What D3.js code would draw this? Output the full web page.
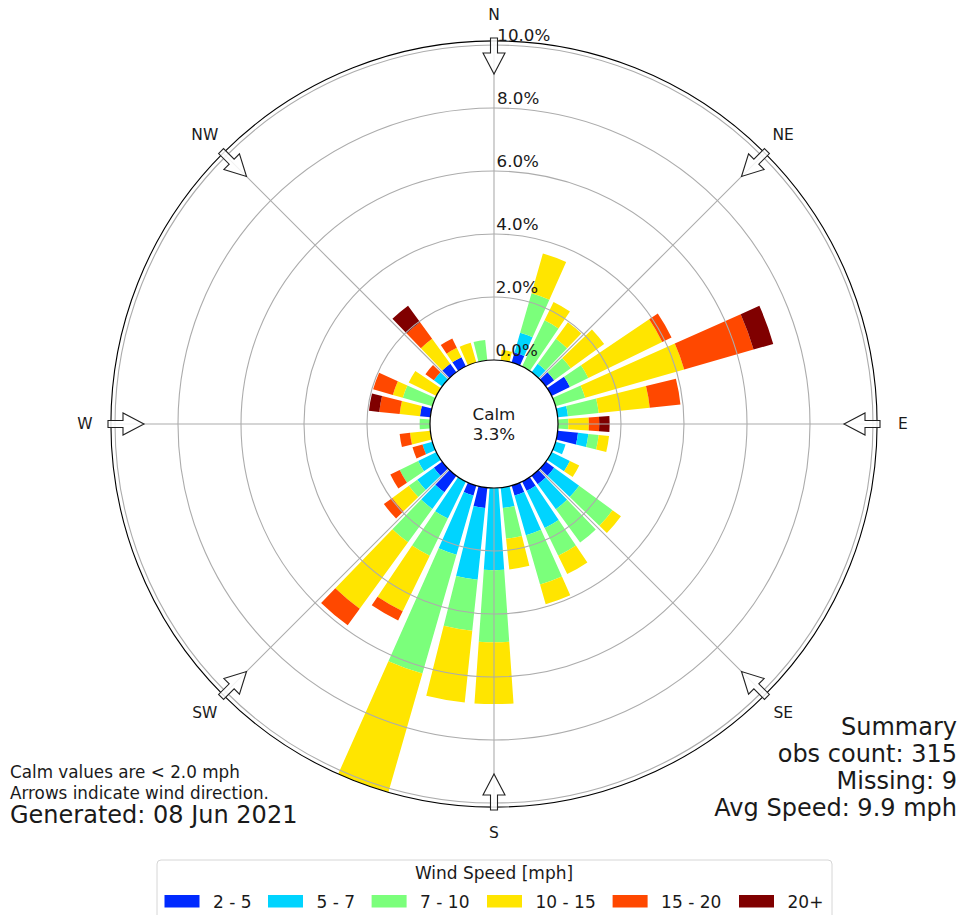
<!DOCTYPE html>
<html>
<head>
<meta charset="utf-8">
<script src="https://cdn.jsdelivr.net/npm/d3@7"></script>
<style>
  body { margin: 0; background: #fff; }
  svg { display: block; font-family: "DejaVu Sans", sans-serif; }
</style>
</head>
<body>
<svg id="chart" width="963" height="915"></svg>
<script>
// Wind direction bins (degrees, centre of each 10° sector)
const directions = [0,10,20,30,40,50,60,70,80,90,100,110,120,130,140,150,160,170,
                    180,190,200,210,220,230,240,250,260,270,280,290,300,310,320,330,340,350];

// Percent of observations in each direction for every speed class
const pct2to5   = [0,0,0.33,0,0,0.33,0.65,0,0,0,0.65,0,0,0.33,0.33,0.33,0.33,0,
                   0,0.65,0.33,0,0.65,0.33,0,0,0,0,0.33,0,0,0,0.33,0.33,0,0];
const pct5to7   = [0,0,0.65,0,0.33,0,0,0,0.33,0,0.33,0.33,0.65,0.98,0.98,1.31,1.31,0.65,
                   2.61,2.29,1.96,1.31,0.65,0.65,0.65,0.33,0,0,0,0,0,0.33,0,0,0,0];
const pct7to10  = [0,0,1.31,1.63,0.98,0.65,0.65,0.98,0.98,0.33,0.33,0,0,1.31,1.31,0.98,1.63,0.98,
                   2.29,1.63,3.92,1.31,1.31,0.33,0.65,0,0,0.33,0,0.98,0,0,0,0,0,0.65];
const pct10to15 = [0,0.33,1.31,0.65,0.65,1.31,2.61,3.27,1.63,0.65,0.33,0,0.33,0.33,0,0.65,0.65,0.98,
                   1.96,2.29,3.92,1.96,2.61,0.65,0,0,0.65,0,0.65,0.33,0.98,0,0.98,0.33,0.65,0];
const pct15to20 = [0,0,0,0,0,0,0.33,2.29,0.98,0.33,0,0,0,0,0,0,0,0,
                   0,0,0,0.33,0.65,0.33,0.33,0.33,0.33,0,0.65,0.65,0,0.33,0.65,0.33,0,0];
const pct20plus = [0,0,0,0,0,0,0,0.65,0,0.33,0,0,0,0,0,0,0,0,
                   0,0,0,0,0,0,0,0,0,0,0.33,0,0,0,0.65,0,0,0];

const speedLabels = ["2 - 5", "5 - 7", "7 - 10", "10 - 15", "15 - 20", "20+"];
const speedColors = ["#002aff", "#00d4ff", "#7bff7b", "#ffe500", "#ff4800", "#800000"];

const ringTicks = [0, 2, 4, 6, 8, 10];
const compassNames = ["N", "NE", "E", "SE", "S", "SW", "W", "NW"];
const compassAngles = [0, 45, 90, 135, 180, 225, 270, 315];

const calmPercent = "3.3%";
const footLeft = ["Calm values are < 2.0 mph", "Arrows indicate wind direction."];
const generatedText = "Generated: 08 Jun 2021";
const summaryLines = ["Summary", "obs count: 315", "Missing: 9", "Avg Speed: 9.9 mph"];

// ---------------------------------------------------------------
const svg = d3.select("#chart");
svg.append("rect").attr("width", 963).attr("height", 915).attr("fill", "#fff");

const cx = 494, cy = 424;
const r = d3.scaleLinear().domain([0, 10]).range([64, 379]);
const rad = Math.PI / 180;

const keys = ["s0", "s1", "s2", "s3", "s4", "s5"];
const series = [pct2to5, pct5to7, pct7to10, pct10to15, pct15to20, pct20plus];
const rows = directions.map((d, i) => {
  const o = { dir: d };
  keys.forEach((k, j) => { o[k] = series[j][i]; });
  return o;
});
const stacked = d3.stack().keys(keys)(rows);
const rMax = d3.max(rows, d => d3.sum(keys, k => d[k]));

const g = svg.append("g").attr("transform", `translate(${cx},${cy})`);

g.append("clipPath").attr("id", "polarClip")
  .append("circle").attr("r", r(rMax));

// stacked sector bars
const halfWidth = 4; // degrees
const arc = d3.arc()
  .innerRadius(d => r(d[0]))
  .outerRadius(d => r(d[1]))
  .startAngle(d => (d.data.dir - halfWidth) * rad)
  .endAngle(d => (d.data.dir + halfWidth) * rad);

const barLayer = g.append("g").attr("clip-path", "url(#polarClip)");
stacked.forEach((layer, j) => {
  barLayer.append("g")
    .selectAll("path")
    .data(layer.filter(d => d[1] - d[0] > 0))
    .join("path")
    .attr("d", arc)
    .attr("fill", speedColors[j]);
});

// grid: rings and spokes
const grid = g.append("g").attr("fill", "none").attr("stroke", "#acacac").attr("stroke-width", 1.1);
grid.selectAll("circle")
  .data(ringTicks.filter(t => t > 0))
  .join("circle")
  .attr("r", d => r(d));
grid.selectAll("line")
  .data(compassAngles)
  .join("line")
  .attr("x1", d => r(0) * Math.sin(d * rad))
  .attr("y1", d => -r(0) * Math.cos(d * rad))
  .attr("x2", d => r(rMax) * Math.sin(d * rad))
  .attr("y2", d => -r(rMax) * Math.cos(d * rad));

// outer frame
g.append("circle").attr("r", r(rMax)).attr("fill", "none")
  .attr("stroke", "#000").attr("stroke-width", 1.1);

// calm disc
g.append("circle").attr("r", r(0)).attr("fill", "#fff")
  .attr("stroke", "#000").attr("stroke-width", 1.2);
g.append("text").attr("x", 0).attr("y", -4).attr("text-anchor", "middle")
  .attr("font-size", 16.7).attr("fill", "#1a1a1a").text("Calm");
g.append("text").attr("x", 0).attr("y", 16).attr("text-anchor", "middle")
  .attr("font-size", 16.7).attr("fill", "#1a1a1a").text(calmPercent);

// radial tick labels
g.append("g").selectAll("text")
  .data(ringTicks)
  .join("text")
  .attr("x", d => 1 + r(d) * 0.006)
  .attr("y", d => -r(d) - 4)
  .attr("font-size", 16.7)
  .attr("fill", "#1a1a1a")
  .text(d => d3.format(".1f")(d) + "%");

// direction arrows (pointing toward the centre)
const arrowPts = [[-3.5,-386],[3.5,-386],[3.5,-371],[11,-371],[0,-350],[-11,-371],[-3.5,-371]];
g.append("g").selectAll("polygon")
  .data(compassAngles)
  .join("polygon")
  .attr("points", arrowPts.map(p => p.join(",")).join(" "))
  .attr("transform", d => `rotate(${d})`)
  .attr("fill", "#fff")
  .attr("fill-opacity", 0.85)
  .attr("stroke", "#222")
  .attr("stroke-width", 1.1)
  .attr("stroke-linejoin", "miter");

// compass labels
g.append("g").selectAll("text")
  .data(compassAngles)
  .join("text")
  .attr("x", d => 409 * Math.sin(d * rad))
  .attr("y", d => -409 * Math.cos(d * rad))
  .attr("text-anchor", "middle")
  .attr("dominant-baseline", "central")
  .attr("font-size", 15.5)
  .attr("fill", "#1a1a1a")
  .text((d, i) => compassNames[i]);

// footnotes
svg.append("g").selectAll("text")
  .data(footLeft)
  .join("text")
  .attr("x", 10)
  .attr("y", (d, i) => 778 + i * 20.5)
  .attr("font-size", 16.8)
  .attr("fill", "#1a1a1a")
  .text(d => d);
svg.append("text").attr("x", 10).attr("y", 823)
  .attr("font-size", 24).attr("fill", "#1a1a1a").text(generatedText);

svg.append("g").selectAll("text")
  .data(summaryLines)
  .join("text")
  .attr("x", 957)
  .attr("y", (d, i) => 735 + i * 27)
  .attr("text-anchor", "end")
  .attr("font-size", 24)
  .attr("fill", "#1a1a1a")
  .text(d => d);

// legend
const legend = svg.append("g");
legend.append("rect")
  .attr("x", 157).attr("y", 860).attr("width", 675).attr("height", 70)
  .attr("rx", 4).attr("fill", "#fff").attr("stroke", "#d6d6d6").attr("stroke-width", 1);
legend.append("text").attr("x", 494).attr("y", 879).attr("text-anchor", "middle")
  .attr("font-size", 17).attr("fill", "#1a1a1a").text("Wind Speed [mph]");
const positions = [164.5, 268, 371.6, 487, 612.6, 739];
const items = legend.selectAll("g.item")
  .data(speedLabels)
  .join("g")
  .attr("class", "item")
  .attr("transform", (d, i) => `translate(${positions[i]},895)`);
items.append("rect").attr("width", 35).attr("height", 12.5)
  .attr("fill", (d, i) => speedColors[i]);
items.append("text").attr("x", 48.5).attr("y", 12.5)
  .attr("font-size", 17).attr("fill", "#1a1a1a").text(d => d);
</script>
</body>
</html>
